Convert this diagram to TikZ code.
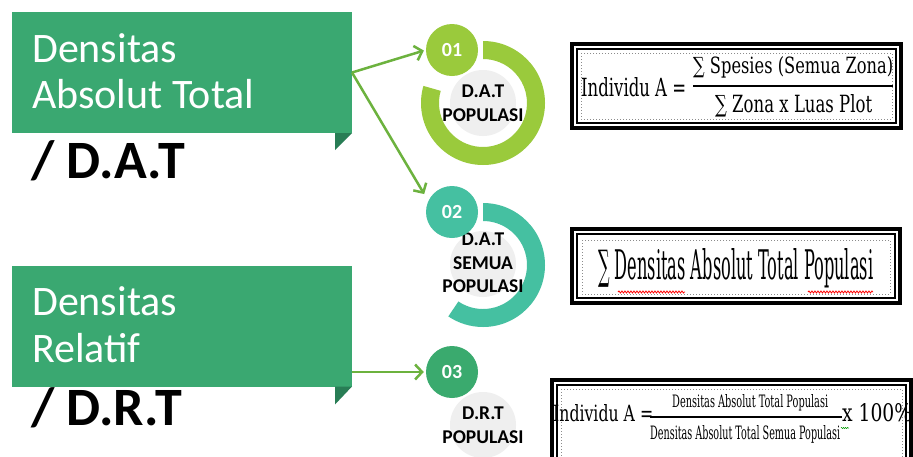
\documentclass[tikz,border=0pt]{standalone}
\usepackage{fontspec}
\setmainfont{Carlito}
\newfontfamily\formfont{DejaVu Serif}
\usetikzlibrary{arrows.meta,decorations.pathmorphing,calc}
\definecolor{boxgreen}{RGB}{58,168,113}
\definecolor{folddark}{RGB}{40,125,85}
\definecolor{arrowgreen}{RGB}{108,178,62}
\definecolor{limegreen}{RGB}{154,202,60}
\definecolor{tealgreen}{RGB}{69,192,161}
\definecolor{midgreen}{RGB}{58,170,110}
\definecolor{discgray}{RGB}{239,239,239}
\newcommand\fitwh[3]{\resizebox{#1}{#2}{#3}}
\begin{document}
\begin{tikzpicture}[x=1pt,y=-1pt,
  greenbox/.style={fill=boxgreen, draw=none, minimum width=340pt, minimum height=121pt, inner sep=0pt, outer sep=0pt},
  titletext/.style={text=white, font=\fontsize{42}{46}\selectfont, anchor=base west, inner sep=0pt},
  abbrev/.style={font=\bfseries\fontsize{54}{60}\selectfont, anchor=base west, inner sep=0pt},
  numcircle/.style={circle, minimum size=52pt, inner sep=0pt, text=white, font=\bfseries\fontsize{20}{22}\selectfont},
  graydisc/.style={circle, fill=discgray, minimum size=66pt, inner sep=0pt},
  circtext/.style={align=center, font=\bfseries\fontsize{19.5}{23.5}\selectfont, inner sep=0pt},
  link/.style={draw=arrowgreen, line width=2.5pt, -{Straight Barb[length=7pt,width=15pt]}},
  frameouter/.style={draw=black, line width=4pt},
  frameinner/.style={draw=black, line width=1.5pt},
  framedots/.style={draw=black!45, line width=1pt, dotted},
  formula/.style={anchor=base west, inner sep=0pt, font=\formfont\fontsize{30}{32}\selectfont},
  spell/.style={line width=0.8pt, decorate, decoration={snake, amplitude=1pt, segment length=3pt}}
]
\useasboundingbox (0,0) rectangle (913,456);
\clip (0,0) rectangle (913,456);
\fill[white] (0,0) rectangle (913,456);

% ---- left banners ----
\node[greenbox] (box1) at (182,72.5) {};
\fill[folddark] (box1.south east) -- ++(-17,0) -- ++(0,17) -- cycle;
\node[titletext] (t1a) at (32,62) {Densitas};
\node[titletext] (t1b) at (32,108) {Absolut Total};
\node[abbrev] (dat) at (31,178) {/ D.A.T};

\node[greenbox] (box2) at (182,326) {};
\fill[folddark] (box2.south east) -- ++(-17,0) -- ++(0,18) -- cycle;
\node[titletext] (t2a) at (32,315) {Densitas};
\node[titletext] (t2b) at (32,362) {Relatif};
\node[abbrev] (drt) at (31,425) {/ D.R.T};

% ---- rings ----
\fill[limegreen] (483,103) ++(-90:62) arc[start angle=-90, end angle=196, radius=62]
  -- ($(483,103)+(196:44)$) arc[start angle=196, end angle=-90, radius=44] -- cycle;
\fill[tealgreen] (483,265) ++(-90:62) arc[start angle=-90, end angle=124, radius=62]
  -- ($(483,265)+(124:44)$) arc[start angle=124, end angle=-90, radius=44] -- cycle;

\node[graydisc] (g1) at (483,103) {};
\node[graydisc] (g2) at (483,264) {};
\node[graydisc] (g3) at (483,425) {};
\node[circtext] (l1) at (483,103) {D.A.T\\POPULASI};
\node[circtext] (l2) at (483,263) {D.A.T\\SEMUA\\POPULASI};
\node[circtext] (l3) at (483,425) {D.R.T\\POPULASI};

\node[numcircle, fill=limegreen] (c01) at (452,50) {01};
\node[numcircle, fill=tealgreen] (c02) at (452,212) {02};
\node[numcircle, fill=midgreen] (c03) at (452,372) {03};

% ---- connectors ----
\draw[link, shorten >=2pt] (box1.east) -- (c01.west);
\draw[link, shorten >=8pt] (box1.east) -- (c02.155);
\draw[link, shorten >=2pt] (box2.east |- c03) -- (c03.west);

% ---- formula frames ----
\draw[frameouter] (572,44) rectangle (901,128);
\draw[frameinner] (577,49) rectangle (896,123);
\draw[framedots] (581,53) rectangle (892,119);

\draw[frameouter] (572,229) rectangle (900,303);
\draw[frameinner] (577,234) rectangle (895,298);
\draw[framedots] (582,240) rectangle (890,294);

\draw[frameouter] (552,380) rectangle (911,470);
\draw[frameinner] (557,385) rectangle (906,470);
\draw[framedots] (561,389) rectangle (902,470);

% ---- formula 1 ----
\node[formula] (f1lhs) at (581,96) {\fitwh{105pt}{19pt}{Individu A =}};
\node[formula] (f1num) at (693,73) {\fitwh{200pt}{17pt}{∑ Spesies (Semua Zona)}};
\node[formula] (f1den) at (715,112) {\fitwh{157pt}{18pt}{∑ Zona x Luas Plot}};
\draw[line width=1.5pt] (693,86) -- (893,86);

% ---- formula 2 ----
\node[formula] (f2) at (598,279) {\fitwh{275pt}{31pt}{∑ Densitas Absolut Total Populasi}};
\draw[spell, red] (618,292) -- (685,292);
\draw[spell, red] (808,292) -- (873,292);

% ---- formula 3 ----
\node[formula] (f3lhs) at (553,421) {\fitwh{100pt}{17pt}{Individu A =}};
\node[formula] (f3num) at (672,407) {\fitwh{156pt}{13pt}{Densitas Absolut Total Populasi}};
\node[formula] (f3den) at (650,439) {\fitwh{190pt}{14pt}{Densitas Absolut Total Semua Populasi}};
\draw[line width=1.2pt] (650,417) -- (842,417);
\node[formula] (f3pct) at (842,421) {\fitwh{70pt}{18pt}{x 100\%}};
\draw[spell, green!60!black, line width=0.5pt, decoration={snake, amplitude=0.6pt, segment length=2pt}] (841,428) -- (849,428);
\end{tikzpicture}
\end{document}
